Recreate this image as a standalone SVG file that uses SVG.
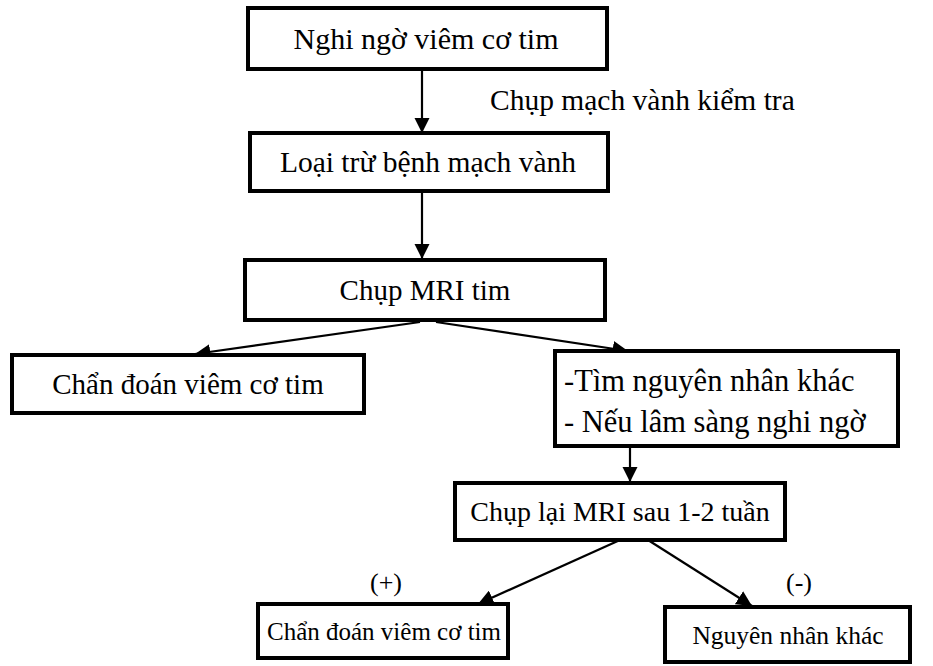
<svg xmlns="http://www.w3.org/2000/svg" width="933" height="666" viewBox="0 0 933 666">
<defs>
<style>
.box{fill:#fff;stroke:#000;stroke-width:4}
.ln{stroke:#000;stroke-width:2.2;fill:none;marker-end:url(#ah)}
text{font-family:'Liberation Serif','Tinos','Times New Roman','DejaVu Serif','Noto Serif',serif;font-size:28px;fill:#000}
.m{text-anchor:middle}
</style>
<marker id="ah" viewBox="0 0 10 10" refX="10" refY="5" markerWidth="7" markerHeight="7" markerUnits="strokeWidth" orient="auto">
<path d="M0,0 L10,5 L0,10 z" fill="#000"/>
</marker>
</defs>
<rect width="933" height="666" fill="#fff"/>
<g id="connectors">
<line class="ln" x1="422" y1="69" x2="422" y2="133"/>
<line class="ln" x1="422" y1="191" x2="422" y2="259"/>
<line class="ln" x1="420" y1="322" x2="195" y2="354"/>
<line class="ln" x1="436" y1="322" x2="628" y2="351"/>
<line class="ln" x1="630" y1="446" x2="630" y2="482"/>
<line class="ln" x1="620" y1="540" x2="478" y2="604"/>
<line class="ln" x1="648" y1="540" x2="752" y2="606"/>
</g>
<g id="n1"><rect class="box" x="248" y="8" width="359" height="61"/><text class="m" x="426" y="49" style="font-size:30px">Nghi ngờ viêm cơ tim</text></g>
<g id="lbl1"><text x="490" y="110" style="font-size:29.5px">Chụp mạch vành kiểm tra</text></g>
<g id="n2"><rect class="box" x="250" y="133" width="358" height="58"/><text class="m" x="428" y="172" style="font-size:29.5px">Loại trừ bệnh mạch vành</text></g>
<g id="n3"><rect class="box" x="245" y="260" width="360" height="60"/><text class="m" x="425" y="300" style="font-size:29px">Chụp MRI tim</text></g>
<g id="n4"><rect class="box" x="12" y="355" width="352" height="58"/><text class="m" x="188" y="394" style="font-size:29px">Chẩn đoán viêm cơ tim</text></g>
<g id="n5"><rect class="box" x="555" y="351" width="343" height="95"/><text x="564" y="391" style="font-size:30.5px">-Tìm nguyên nhân khác</text><text x="564" y="432" style="font-size:30.5px">- Nếu lâm sàng nghi ngờ</text></g>
<g id="n6"><rect class="box" x="455" y="483" width="330" height="57"/><text class="m" x="620" y="521">Chụp lại MRI sau 1-2 tuần</text></g>
<g id="lbl2"><text x="370" y="591" style="font-size:26px">(+)</text></g>
<g id="lbl3"><text x="786" y="591" style="font-size:26px">(-)</text></g>
<g id="n7"><rect class="box" x="258" y="604" width="250" height="54"/><text class="m" x="384" y="640" style="font-size:25px">Chẩn đoán viêm cơ tim</text></g>
<g id="n8"><rect class="box" x="665" y="607" width="245" height="55"/><text class="m" x="788" y="644" style="font-size:25.5px">Nguyên nhân khác</text></g>
</svg>
